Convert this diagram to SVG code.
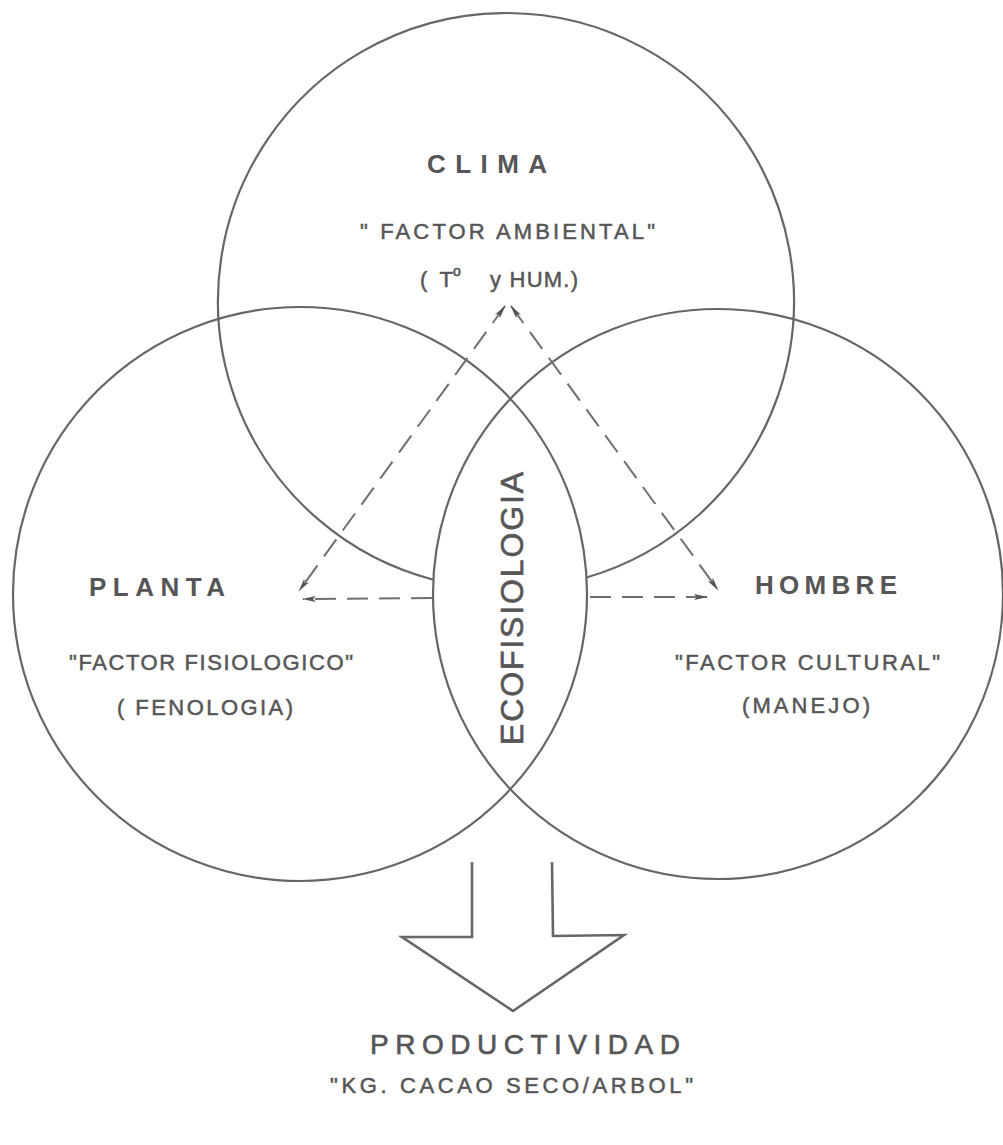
<svg xmlns="http://www.w3.org/2000/svg" width="1003" height="1145" viewBox="0 0 1003 1145">
  <style>
    .circ { fill: none; stroke: #666; stroke-width: 2.2; }
    .t { font-family: "Liberation Sans", Arial, sans-serif; fill: #565656; }
    .title { font-weight: bold; font-size: 26px; }
    .sub { font-size: 22px; stroke: #565656; stroke-width: 0.5; }
    .med { stroke: #565656; stroke-width: 0.6; }
    .dash { fill: none; stroke: #707070; stroke-width: 2; stroke-dasharray: 21 11; }
    .big { fill: none; stroke: #666; stroke-width: 2.6; stroke-linejoin: miter; }
  </style>
  <defs>
    <marker id="ah" viewBox="0 0 14 8" refX="13" refY="4" markerWidth="14" markerHeight="8" markerUnits="userSpaceOnUse" orient="auto-start-reverse">
      <path d="M0,1 L14,4 L0,7 L3,4 z" fill="#555"/>
    </marker>
  </defs>
  <rect width="1003" height="1145" fill="#ffffff"/>

  <g id="node-clima">
    <path class="circ" d="M433.35,579.7 A288,288 0 1 1 586.52,577.51"/>
    <text class="t title" x="427" y="173" font-size="25" textLength="120" lengthAdjust="spacing">CLIMA</text>
    <text class="t sub" x="360" y="239" textLength="295" lengthAdjust="spacing">" FACTOR AMBIENTAL"</text>
    <text class="t sub" x="420" y="287" textLength="33" lengthAdjust="spacing">( T</text>
    <text class="t med" x="453" y="276" font-size="14">o</text>
    <text class="t sub" x="490" y="287" textLength="88" lengthAdjust="spacing">y HUM.)</text>
  </g>

  <g id="node-planta">
    <circle class="circ" cx="300" cy="594" r="287"/>
    <text class="t title" x="89" y="596" textLength="136" lengthAdjust="spacing">PLANTA</text>
    <text class="t sub" x="69" y="670" textLength="284" lengthAdjust="spacing">"FACTOR FISIOLOGICO"</text>
    <text class="t sub" x="117" y="715" textLength="176" lengthAdjust="spacing">( FENOLOGIA)</text>
  </g>

  <g id="node-hombre">
    <circle class="circ" cx="718" cy="594" r="285"/>
    <text class="t title" x="755" y="594" textLength="142" lengthAdjust="spacing">HOMBRE</text>
    <text class="t sub" x="675" y="670" textLength="265" lengthAdjust="spacing">"FACTOR CULTURAL"</text>
    <text class="t sub" x="742" y="713" textLength="128" lengthAdjust="spacing">(MANEJO)</text>
  </g>

  <g id="node-ecofisiologia">
    <text class="t med" transform="translate(523 745) rotate(-90)" x="0" y="0" font-size="32" textLength="273" lengthAdjust="spacing">ECOFISIOLOGIA</text>
  </g>

  <g id="connectors">
    <line class="dash" x1="505" y1="306" x2="299" y2="591" marker-start="url(#ah)" marker-end="url(#ah)"/>
    <line class="dash" x1="511" y1="306" x2="718" y2="590" marker-start="url(#ah)" marker-end="url(#ah)"/>
    <line class="dash" x1="432" y1="598" x2="303" y2="599" marker-end="url(#ah)"/>
    <line class="dash" x1="590" y1="597" x2="707" y2="597" marker-end="url(#ah)"/>
    <polyline class="big" points="472,862 472,937 402,937 513,1011 624,935 553,936 552,862"/>
  </g>

  <g id="node-productividad">
    <text class="t med" x="370" y="1054" font-size="28" textLength="310" lengthAdjust="spacing">PRODUCTIVIDAD</text>
    <text class="t sub" x="330" y="1093" textLength="363" lengthAdjust="spacing">"KG. CACAO SECO/ARBOL"</text>
  </g>
</svg>
